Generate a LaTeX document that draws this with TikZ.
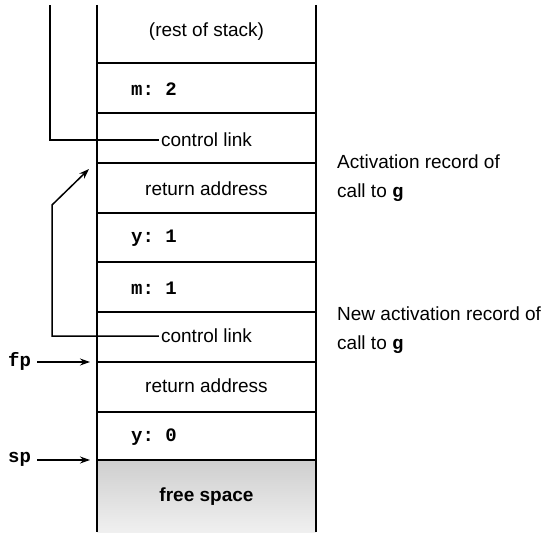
\documentclass[tikz,border=0pt]{standalone}
\usepackage{fontspec}
\setmainfont{Liberation Sans}
\setmonofont{Liberation Mono}
\usetikzlibrary{arrows.meta}
\begin{document}
\begin{tikzpicture}[x=1pt,y=-1pt,
  frame/.style={line width=1.8pt},
  rowline/.style={line width=1.8pt},
  link/.style={line width=1.5pt},
  ptr/.style={line width=1.2pt,-{Stealth[length=10pt,width=7pt]}},
  lbl/.style={font=\fontsize{19}{23}\selectfont, inner sep=2pt},
  var/.style={font=\fontsize{19}{23}\selectfont\ttfamily\bfseries, anchor=west, inner sep=0pt},
  note/.style={font=\fontsize{19}{29}\selectfont, align=left, anchor=west, inner sep=0pt}]
\useasboundingbox (0,0) rectangle (556,534);
% free space
\shade[top color=gray!38, bottom color=gray!12] (97,460) rectangle (316,532);
% stack frame
\draw[frame] (97,5) -- (97,532);
\draw[frame] (316,5) -- (316,532);
\foreach \y in {63,113,163,213,262,312,362,412,460}
  \draw[rowline] (97,\y) -- (316,\y);
% cells
\node[lbl] (rest) at (206.5,32) {(rest of stack)};
\node[var] (m2) at (131,89) {m: 2};
\node[lbl, fill=white] (cl1) at (206.5,140) {control link};
\node[lbl] (ra1) at (206.5,189) {return address};
\node[var] (y1) at (131,238) {y: 1};
\node[var] (m1) at (131,288) {m: 1};
\node[lbl, fill=white] (cl2) at (206.5,336) {control link};
\node[lbl] (ra2) at (206.5,386) {return address};
\node[var] (y0) at (131,437) {y: 0};
\node[lbl, font=\fontsize{19}{23}\selectfont\bfseries] (fs) at (206.5,497) {free space};
% control links
\coordinate (up1) at (50,5);
\draw[link] (cl1.west) -| (up1);
\coordinate (bend2) at (52,205);
\coordinate (tip2) at (89,169);
\draw[link,-{Stealth[length=10pt,width=7pt]}] (cl2.west) -| (bend2) -- (tip2);
% fp / sp
\node[var] (fp) at (8,361) {fp};
\node[var] (sp) at (8,459) {sp};
\coordinate (fpt) at (90,362);
\coordinate (spt) at (90,460);
\draw[ptr] ([xshift=6pt]fp.east |- fpt) -- (fpt);
\draw[ptr] ([xshift=6pt]sp.east |- spt) -- (spt);
% notes
\node[note] (n1) at (337,178) {Activation record of\\call to \texttt{\bfseries g}};
\node[note] (n2) at (337,330) {New activation record of\\call to \texttt{\bfseries g}};
\end{tikzpicture}
\end{document}
